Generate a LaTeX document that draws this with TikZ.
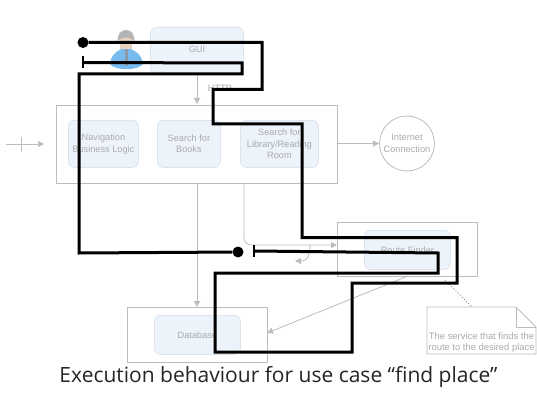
\documentclass[tikz,border=0pt]{standalone}
\usepackage{fontspec}
\setmainfont{Liberation Sans}
\newfontfamily\capfont{Open Sans}
\usetikzlibrary{arrows.meta,shapes.geometric}
\definecolor{gl}{HTML}{BDBDBD}
\definecolor{gt}{HTML}{ABABAB}
\definecolor{bf}{HTML}{EDF3FB}
\definecolor{bd}{HTML}{DCE4EE}
\definecolor{bodyblue}{HTML}{78BBEE}
\definecolor{skin}{HTML}{E8D2C0}
\definecolor{hair}{HTML}{B4B4B4}
\definecolor{tie}{HTML}{8A9AA8}
\tikzset{
 x=1pt,y=-1pt,
 outerbox/.style={draw=gl,line width=.8pt,fill=white},
 innerbox/.style={draw=bd,line width=.8pt,fill=bf,rounded corners=6pt,align=center,text=gt,font=\fontsize{9.2}{11.5}\selectfont},
 conn/.style={draw=gl,line width=.8pt,-{Triangle[length=6pt,width=6pt,fill=gl]}},
 plain/.style={draw=gl,line width=.8pt},
 heavy/.style={draw=black,line width=3pt},
 lab/.style={text=gt,font=\fontsize{9.2}{11.5}\selectfont,align=center},
 blackdot/.style={circle,fill=black,inner sep=0,minimum size=11pt},
 tee/.style={draw=black,line width=2.4pt}
}
\begin{document}
\begin{tikzpicture}
\useasboundingbox (0,0) rectangle (537,403);
\fill[white] (0,0) rectangle (537,403);
% boxes
\node[outerbox,minimum width=281pt,minimum height=78pt,inner sep=0,anchor=north west] (logic) at (56,105) {};
\node[outerbox,minimum width=140pt,minimum height=54pt,inner sep=0,anchor=north west] (routeouter) at (337,222) {};
\node[outerbox,minimum width=140pt,minimum height=55pt,inner sep=0,anchor=north west] (dbouter) at (127,307) {};
\node[innerbox,minimum width=93pt,minimum height=46pt,inner sep=0,anchor=north west] (gui) at (150,27) {};
\node[lab] (guilabel) at (197,49.5) {GUI};
\node[innerbox,minimum width=70pt,minimum height=47pt,inner sep=0,anchor=north west] (nav) at (68,120) {Navigation\\Business Logic};
\node[innerbox,minimum width=63pt,minimum height=47pt,inner sep=0,anchor=north west] (books) at (157,120) {Search for\\Books};
\node[innerbox,minimum width=78pt,minimum height=47pt,inner sep=0,anchor=north west] (lib) at (240,120) {Search for\\Library/Reading\\Room};
\node[innerbox,minimum width=86pt,minimum height=39pt,inner sep=0,anchor=north west] (route) at (364,230) {Route Finder};
\node[innerbox,minimum width=86pt,minimum height=39pt,inner sep=0,anchor=north west] (db) at (154,315) {Database};
\node[circle,draw=gl,line width=.8pt,minimum size=55pt,inner sep=0,lab] (net) at (407,143.5) {Internet\\Connection};
\node[lab] (http) at (220,88) {HTTP};
% note
\draw[plain,fill=white] (427,307) -- (516,307) -- (536,327) -- (536,354) -- (427,354) -- cycle;
\draw[plain] (516,307) -- (516,327) -- (536,327);
\node[lab,font=\fontsize{9.4}{11}\selectfont] (note) at (481.5,343) {The service that finds the\\route to the desired place};
\coordinate (noteTop) at (472,307);
\coordinate (noteFrom) at (445,280);
\draw[gl!80!black,line width=1pt,dotted] (noteFrom) -- (noteTop);
% gray connectors
\coordinate (inStart) at (6,144);
\coordinate (inEnd) at (44,144);
\draw[conn] (inStart) -- (inEnd);
\coordinate (tickA) at (21.5,137);
\coordinate (tickB) at (21.5,152);
\draw[plain] (tickA) -- (tickB);
\draw[conn] (197,73) -- (197,104);
\draw[conn] (337,143.5) -- (net.west);
\draw[conn] (197,183) -- (197,307);
\draw[conn,rounded corners=7pt] (244,183) -- (244,245) -- (337,245);
\draw[conn] (310,245) .. controls (310,258) and (306,261) .. (295,261);
\draw[conn] (408,276) -- (267,333);
% person
\begin{scope}
\fill[bodyblue] (110,64) .. controls (111,54) and (118,50) .. (126,47) .. controls (134,50) and (142,54) .. (143,64) .. controls (138,71) and (115,71) .. (110,64) -- cycle;
\fill[skin] (120,36) rectangle (132,49);
\fill[hair] (118,42) .. controls (115,26) and (137,26) .. (134,42) .. controls (132,36) and (120,36) .. (118,42) -- cycle;
\fill[tie] (124.5,49) rectangle (127.5,66);
\end{scope}
% black paths
\node[blackdot] (startA) at (83,42.5) {};
\node[blackdot] (startB) at (238,252) {};
\coordinate (endA) at (83,62.5);
\coordinate (endB) at (254,251);
\draw[heavy] (startA) -- (262,42.5) -- (262,89.5) -- (213,89.5) -- (213,124) -- (302,124) -- (302,237.5) -- (457,237.5) -- (457,283) -- (352,283) -- (352,352) -- (215,352) -- (215,273) -- (438,273) -- (438,253) -- (endB);
\draw[heavy] (startB) -- (79,253) -- (79,74) -- (242,74) -- (242,63) -- (endA);
\draw[tee] (endA |- 0,56.5) -- (endA |- 0,68.5);
\draw[tee] (endB |- 0,245) -- (endB |- 0,257);
% caption
\node[font=\capfont\fontsize{21}{24}\selectfont,text=black!85] (caption) at (278.5,377) {Execution behaviour for use case “find place”};
\end{tikzpicture}
\end{document}
